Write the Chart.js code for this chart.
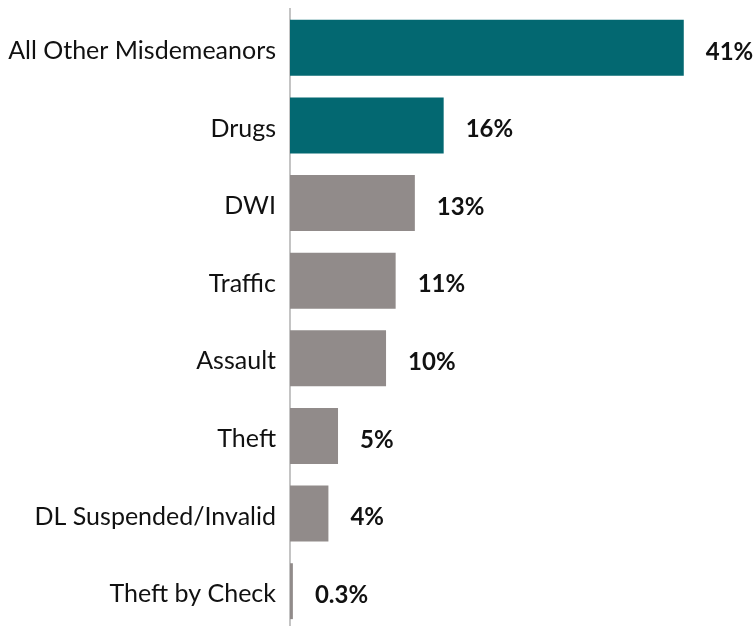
<!DOCTYPE html>
<html>
<head>
<meta charset="utf-8">
<script src="https://cdn.jsdelivr.net/npm/chart.js@4"></script>
<style>
  html, body { margin: 0; padding: 0; background: #fff; overflow: hidden; }
  #wrap { width: 754px; height: 630px; }
</style>
</head>
<body>
<div id="wrap"><canvas id="chart" width="754" height="630"></canvas></div>
<script>
// Misdemeanor offense shares (percent)
const categories = [
    'All Other Misdemeanors', 'Drugs', 'DWI', 'Traffic',
    'Assault', 'Theft', 'DL Suspended/Invalid', 'Theft by Check'
];
const shares = [41, 16, 13, 11, 10, 5, 4, 0.3];
const highlighted = [true, true, false, false, false, false, false, false];

const TEAL = '#036871';
const GRAY = '#918b8a';

// Draw value labels to the right of each bar
const valueLabels = {
    id: 'valueLabels',
    afterDatasetsDraw(chart) {
        const ctx = chart.ctx;
        const meta = chart.getDatasetMeta(0);
        ctx.save();
        ctx.font = 'bold 24px Lato';
        ctx.fillStyle = '#111';
        ctx.textAlign = 'left';
        ctx.textBaseline = 'middle';
        meta.data.forEach((bar, i) => {
            const v = shares[i];
            const txt = (v % 1 === 0 ? v : v.toFixed(1)) + '%';
            ctx.fillText(txt, bar.x + 22, bar.y + 4);
        });
        ctx.restore();
    }
};

new Chart(document.getElementById('chart'), {
    type: 'bar',
    data: {
        labels: categories,
        datasets: [{
            data: shares,
            backgroundColor: highlighted.map(h => h ? TEAL : GRAY),
            borderWidth: 0,
            categoryPercentage: 1,
            barPercentage: 0.72
        }]
    },
    options: {
        indexAxis: 'y',
        responsive: false,
        animation: false,
        layout: { padding: { top: 9, right: 3, left: 0, bottom: 0 } },
        plugins: {
            legend: { display: false },
            tooltip: { enabled: false }
        },
        scales: {
            x: {
                min: 0,
                max: 48,
                display: false
            },
            y: {
                grid: { display: false, drawTicks: false },
                border: { display: true, color: '#c4c4c4', width: 2 },
                ticks: {
                    color: '#111',
                    padding: 14,
                    labelOffset: 3,
                    font: { family: 'Lato', size: 25 }
                },
                afterFit(scale) {
                    scale.width = 290;
                    scale.paddingTop = 0;
                    scale.paddingBottom = 0;
                }
            }
        }
    },
    plugins: [valueLabels]
});
</script>
</body>
</html>
